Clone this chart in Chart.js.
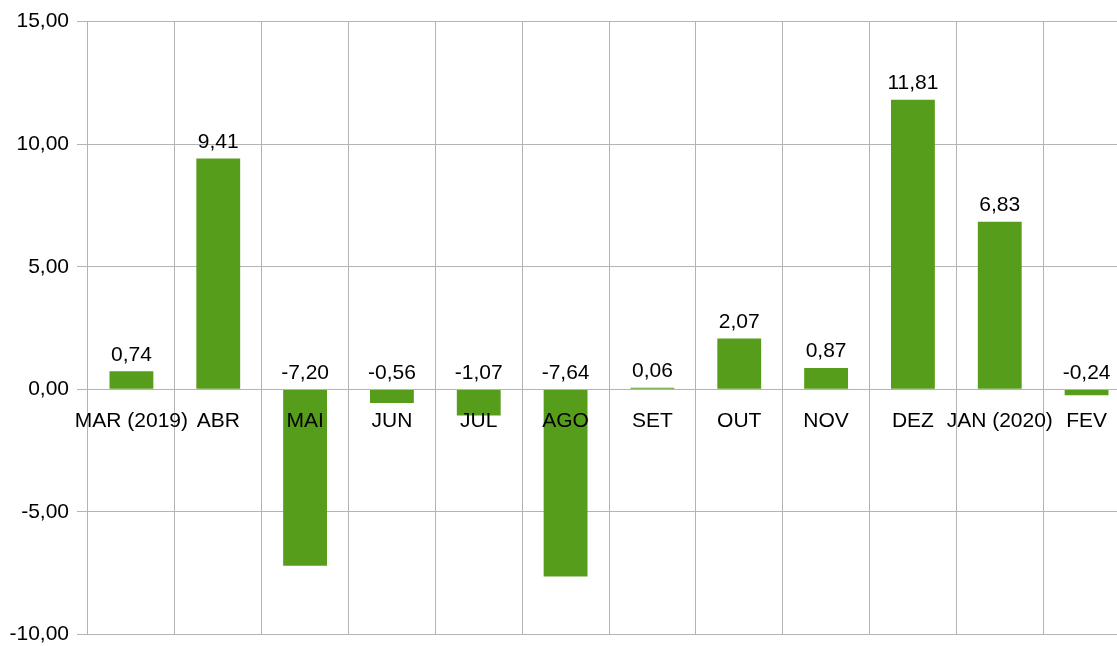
<!DOCTYPE html>
<html>
<head>
<meta charset="utf-8">
<script src="https://cdn.jsdelivr.net/npm/chart.js@4"></script>
<style>
  html, body { margin: 0; padding: 0; background: #fff; overflow: hidden; }
  #wrap { width: 1117px; height: 646px; overflow: hidden; position: relative; }
  #box { width: 1130px; height: 654px; position: absolute; left: 0; top: 1px; }
</style>
</head>
<body>
<div id="wrap"><div id="box"><canvas id="chart"></canvas></div></div>
<script>
// monthly variation (%)
var months = ["MAR (2019)", "ABR", "MAI", "JUN", "JUL", "AGO", "SET", "OUT", "NOV", "DEZ", "JAN (2020)", "FEV"];
var values = [0.74, 9.41, -7.20, -0.56, -1.07, -7.64, 0.06, 2.07, 0.87, 11.81, 6.83, -0.24];
var yMin = -10, yMax = 15, yStep = 5;

var fontFamily = "'Liberation Sans', Arial, sans-serif";
var fontSize = 21;

function fmt(v) {
    return v.toFixed(2).replace(".", ",");
}

var valueLabels = {
    id: "valueLabels",
    afterDatasetsDraw: function (chart) {
        var ctx = chart.ctx;
        var zeroY = chart.scales.y.getPixelForValue(0);
        var meta = chart.getDatasetMeta(0);
        ctx.save();
        ctx.font = fontSize + "px " + fontFamily;
        ctx.fillStyle = "#000";
        ctx.textAlign = "center";
        ctx.textBaseline = "alphabetic";
        meta.data.forEach(function (bar, i) {
            var v = values[i];
            var y = v >= 0 ? bar.y : zeroY;
            ctx.fillText(fmt(v), bar.x, y - 10.5);
        });
        ctx.restore();
    },
};

var ctx = document.getElementById("chart").getContext("2d");
var myChart = new Chart(ctx, {
    type: "bar",
    data: {
        labels: months,
        datasets: [
            {
                data: values,
                backgroundColor: "#579d1c",
                borderWidth: 0,
                categoryPercentage: 1,
                barPercentage: 0.505,
            },
        ],
    },
    options: {
        responsive: true,
        maintainAspectRatio: false,
        animation: false,
        layout: {
            padding: { top: 15, right: 0, bottom: 2, left: 0 },
        },
        plugins: {
            legend: { display: false },
            tooltip: { enabled: false },
        },
        scales: {
            x: {
                position: { y: 0 },
                offset: true,
                grid: {
                    offset: true,
                    color: "#b3b3b3",
                    lineWidth: 1,
                    tickLength: 10,
                },
                border: { display: true, color: "#b3b3b3", z: 1 },
                ticks: {
                    z: 1,
                    color: "#000",
                    padding: 9,
                    maxRotation: 0,
                    autoSkip: false,
                    font: { family: fontFamily, size: fontSize },
                },
            },
            y: {
                min: yMin,
                max: yMax,
                afterFit: function (scale) {
                    scale.width = 88;
                },
                grid: {
                    color: "#b3b3b3",
                    lineWidth: 1,
                    tickLength: 11,
                },
                border: { display: false },
                ticks: {
                    stepSize: yStep,
                    color: "#000",
                    padding: 8,
                    font: { family: fontFamily, size: fontSize },
                    callback: function (v) {
                        return fmt(v);
                    },
                },
            },
        },
    },
    plugins: [valueLabels],
});
</script>
</body>
</html>
